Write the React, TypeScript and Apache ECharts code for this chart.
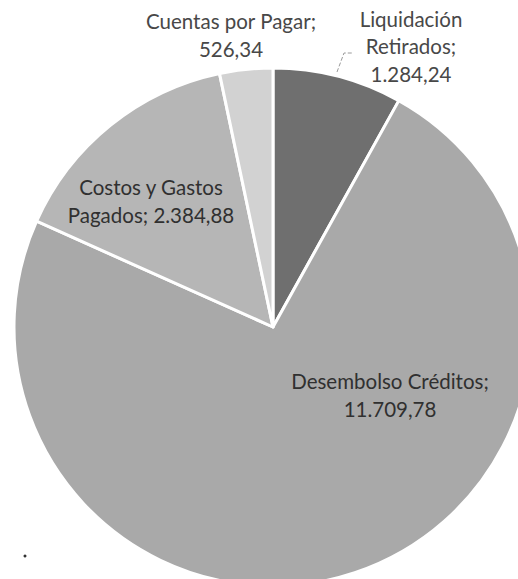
import React, { useEffect, useRef } from "react";
import * as echarts from "echarts";

const categories = [
  "Liquidación Retirados",
  "Desembolso Créditos",
  "Costos y Gastos Pagados",
  "Cuentas por Pagar",
];
const values = [1284.24, 11709.78, 2384.88, 526.34];
const labelNames = [
  "Liquidación\nRetirados",
  "Desembolso Créditos",
  "Costos y Gastos\nPagados",
  "Cuentas por Pagar",
];
const labelSeparators = ["\n", "\n", " ", "\n"];
const colors = ["#6f6f6f", "#a9a9a9", "#b6b6b6", "#d2d2d2"];

const labelPos = [
  { x: 411, y: 46 },
  { x: 390, y: 395 },
  { x: 151, y: 201 },
  { x: 231, y: 35 },
];

function fmt(v: number): string {
  const [i, d] = v.toFixed(2).split(".");
  const g = i.replace(/\B(?=(\d{3})+(?!\d))/g, ".");
  return g + "," + d;
}

export default function App() {
  const ref = useRef<HTMLDivElement>(null);
  useEffect(() => {
    document.body.style.margin = "0";
    if (!ref.current) return;
    const chart = echarts.init(ref.current, undefined, { renderer: "svg" });
    chart.setOption({
      animation: false,
      backgroundColor: "#ffffff",
      series: [
        {
          type: "pie",
          center: [273, 327],
          radius: [0, 259],
          startAngle: 90,
          clockwise: true,
          avoidLabelOverlap: false,
          itemStyle: { borderColor: "#ffffff", borderWidth: 3 },
          label: {
            show: true,
            position: "inside",
            fontFamily: "Lato, 'Open Sans', sans-serif",
            fontSize: 20.5,
            lineHeight: 27.5,
            color: "#3a3a3a",
            formatter: (p: any) =>
              labelNames[p.dataIndex] + ";" + labelSeparators[p.dataIndex] + fmt(p.value),
          },
          labelLine: { show: false },
          labelLayout: (p: any) => {
            const pos = labelPos[p.dataIndex];
            const out: any = { x: pos.x, y: pos.y, align: "center", verticalAlign: "middle" };
            if (p.dataIndex === 0) {
              out.labelLinePoints = [
                [337, 72],
                [344, 53],
                [353, 53],
              ];
            }
            return out;
          },
          data: categories.map((c, i) => ({
            name: c,
            value: values[i],
            itemStyle: { color: colors[i] },
            label:
              i === 0 || i === 3
                ? { position: "outside", color: "#484848" }
                : { position: "inside", color: "#303030" },
            labelLine:
              i === 0
                ? { show: true, lineStyle: { color: "#9a9a9a", width: 1, type: "dashed" } }
                : { show: false },
          })),
        },
      ],
      graphic: [
        { type: "circle", shape: { cx: 25, cy: 556, r: 1.5 }, style: { fill: "#333" } },
      ],
    });
    return () => chart.dispose();
  }, []);
  return <div ref={ref} style={{ width: 518, height: 579 }} />;
}
